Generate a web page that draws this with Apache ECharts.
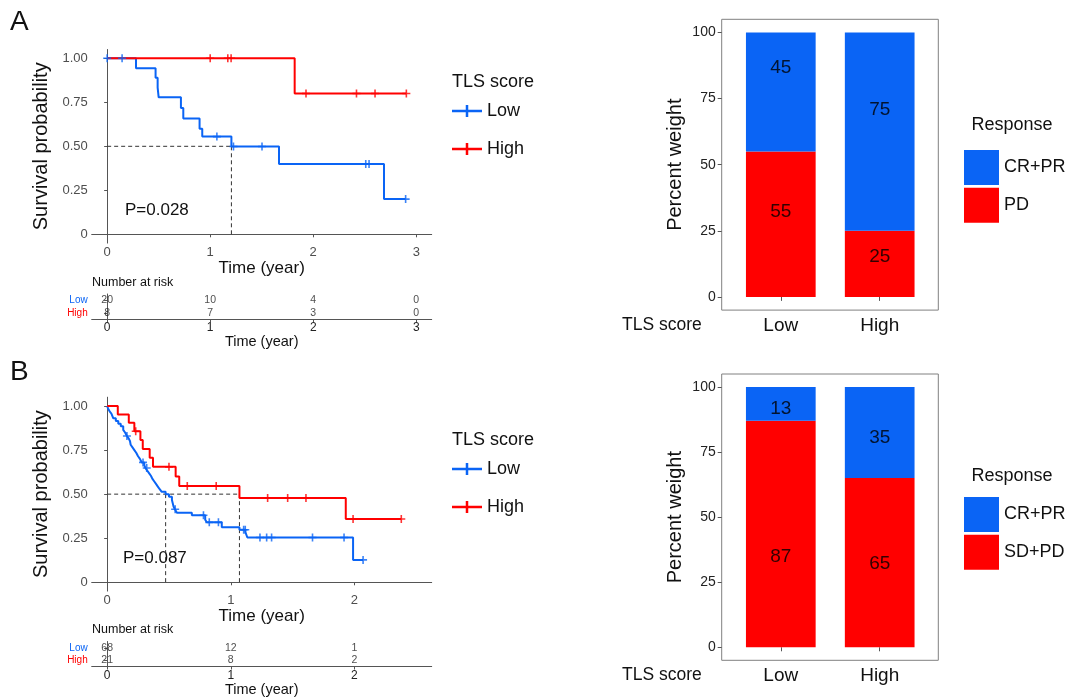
<!DOCTYPE html>
<html><head><meta charset="utf-8">
<script src="https://cdn.jsdelivr.net/npm/echarts@6/dist/echarts.min.js"></script>
<style>html,body{margin:0;padding:0;background:#fff}#c{width:1069px;height:700px}</style>
</head><body><div id="c"></div>
<script>
// ---------------- DATA ----------------
// Panel A – Kaplan-Meier (time in years, survival probability)
const kmA_lowSteps = [[0,1],[0.28,0.944],[0.47,0.889],[0.49,0.833],[0.50,0.778],[0.716,0.718],[0.739,0.658],[0.897,0.600],[0.923,0.555],[1.206,0.499],[1.668,0.40],[2.687,0.20]];
const kmA_lowEnd = 2.897;
const kmA_lowCensor = [0,0.145,1.065,1.226,1.503,2.51,2.542,2.897];
const kmA_highSteps = [[0,1],[1.82,0.80]];
const kmA_highEnd = 2.904;
const kmA_highCensor = [1.0,1.171,1.203,1.93,2.42,2.60,2.904];
const kmA_medians = [1.206];
const kmA_pValue = 'P=0.028';
const kmA_xTicks = [0,1,2,3];

// Panel B – Kaplan-Meier
const kmB_lowSteps = [[0,1],[0.008,0.985],[0.02,0.97],[0.035,0.956],[0.05,0.93],[0.07,0.915],[0.09,0.90],[0.11,0.885],[0.13,0.865],[0.145,0.85],[0.16,0.83],[0.175,0.815],[0.185,0.80],[0.19,0.78],[0.205,0.765],[0.22,0.75],[0.235,0.735],[0.25,0.715],[0.265,0.70],[0.28,0.68],[0.30,0.665],[0.31,0.648],[0.325,0.633],[0.34,0.618],[0.355,0.603],[0.365,0.588],[0.38,0.573],[0.395,0.558],[0.41,0.543],[0.425,0.528],[0.44,0.514],[0.473,0.499],[0.50,0.485],[0.524,0.467],[0.53,0.45],[0.537,0.43],[0.548,0.414],[0.564,0.395],[0.685,0.38],[0.793,0.355],[0.806,0.34],[0.927,0.312],[1.07,0.298],[1.118,0.284],[1.134,0.254],[1.989,0.127]];
const kmB_lowEnd = 2.07;
const kmB_lowCensor = [0.16,0.29,0.32,0.55,0.779,0.826,0.90,1.104,1.117,1.236,1.29,1.33,1.661,1.916,2.07];
const kmB_highSteps = [[0,1],[0.086,0.952],[0.175,0.905],[0.22,0.857],[0.269,0.807],[0.288,0.756],[0.344,0.706],[0.371,0.655],[0.554,0.600],[0.583,0.546],[1.07,0.478],[1.93,0.359]];
const kmB_highEnd = 2.379;
const kmB_highCensor = [0.231,0.5,0.648,0.882,1.298,1.46,1.608,1.989,2.379];
const kmB_medians = [0.473,1.07];
const kmB_pValue = 'P=0.087';
const kmB_xTicks = [0,1,2];

const survTicks = [0,0.25,0.5,0.75,1];
const survTickLabels = ['0','0.25','0.50','0.75','1.00'];

// Number at risk tables
const riskA_times = [0,1,2,3];
const riskA_low = [20,10,4,0];
const riskA_high = [8,7,3,0];
const riskB_times = [0,1,2];
const riskB_low = [68,12,1];
const riskB_high = [21,8,2];
const riskGroups = ['High','Low'];

// Response bars (percent)
const barCats = ['Low','High'];
const barA_crpr = [45,75];
const barA_pd = [55,25];
const barA_crprLabelY = [86.5,70.8];
const barA_pdLabelY = [32.3,15.1];
const barB_crpr = [13,35];
const barB_sdpd = [87,65];
const barB_crprLabelY = [91.5,80.4];
const barB_sdpdLabelY = [34.8,32.0];
const pctTicks = [0,25,50,75,100];

// ---------------- STYLE ----------------
const FONT = '"Liberation Sans", Arial, sans-serif';
const BLUE = '#0a64f5', RED = '#ff0000';
const AXC = '#555555', LBL = '#4d4d4d';
const crossIcon = 'path://M0,4.75h30v2.5h-30z M13.75,0h2.5v12h-2.5z';
const censorSym = 'path://M4,0H6V4H10V6H6V10H4V6H0V4H4Z';

function survAt(steps, t){ let s = steps[0][1]; for (const p of steps){ if (p[0] <= t) s = p[1]; } return s; }

function kmX(gi, min, max, ticks, labelSize, nameGap, nameSize){
  return {gridIndex: gi, type:'value', min, max,
    axisLine:{show:true, lineStyle:{color:AXC, width:1}},
    axisTick:{show:true, customValues: ticks, length:3, lineStyle:{color:AXC}},
    axisLabel:{customValues: ticks, formatter: v => String(v), color: gi%2? '#222':LBL, fontSize: labelSize, fontFamily: FONT, margin: 3},
    splitLine:{show:false},
    name:'Time (year)', nameLocation:'middle', nameGap, nameTextStyle:{fontSize:nameSize, fontFamily:FONT, color:'#111'}};
}
function kmY(gi){
  return {gridIndex: gi, type:'value', min:-0.05, max:1.05,
    axisLine:{show:true, lineStyle:{color:AXC, width:1}},
    axisTick:{show:true, customValues: survTicks, length:3, lineStyle:{color:AXC}},
    axisLabel:{customValues: survTicks, formatter: v => survTickLabels[survTicks.indexOf(v)] ?? '', color:LBL, fontSize:13, fontFamily:FONT, margin:4},
    splitLine:{show:false},
    name:'Survival probability', nameLocation:'middle', nameRotate:90, nameGap:40, nameTextStyle:{fontSize:20, fontFamily:FONT, color:'#111'}};
}
function riskY(gi){
  return {gridIndex: gi, type:'category', data: riskGroups,
    axisLine:{show:true, lineStyle:{color:AXC}},
    axisTick:{show:true, alignWithLabel:true, length:3, lineStyle:{color:AXC}},
    axisLabel:{interval:0, fontSize:10, fontFamily:FONT, margin:4, color: v => v === 'Low' ? BLUE : RED}};
}
// frame grid axes (visible percent axis)
function frameX(gi){ return {gridIndex: gi, type:'value', min:0, max:1, show:false}; }
function frameY(gi){
  return {gridIndex: gi, type:'value', min:-5, max:105,
    axisLine:{show:false}, splitLine:{show:false},
    axisTick:{show:true, customValues: pctTicks, length:4, lineStyle:{color:AXC}},
    axisLabel:{customValues: pctTicks, formatter: v => String(v), fontSize:14, fontFamily:FONT, color:'#222', margin:6},
    name:'Percent weight', nameLocation:'middle', nameRotate:90, nameGap:36, nameTextStyle:{fontSize:20, fontFamily:FONT, color:'#111'}};
}
// plot grid axes (category bars)
function plotX(gi){
  return {gridIndex: gi, type:'category', data: barCats,
    axisLine:{show:false}, splitLine:{show:false},
    axisTick:{show:true, alignWithLabel:true, length:4, lineStyle:{color:AXC}},
    axisLabel:{interval:0, fontSize:19, fontFamily:FONT, color:'#111', margin:6}};
}
function plotY(gi){ return {gridIndex: gi, type:'value', min:-5, max:105, show:false}; }

function kmLine(name, steps, end, color, i){
  const data = steps.concat([[end, steps[steps.length-1][1]]]);
  return {type:'line', name, xAxisIndex:i, yAxisIndex:i, data, step:'end', symbol:'none', showSymbol:false,
    lineStyle:{color, width:2}, itemStyle:{color}, silent:true, z:3};
}
function kmCensor(name, steps, times, color, i){
  return {type:'scatter', name, xAxisIndex:i, yAxisIndex:i, data: times.map(t => [t, survAt(steps, t)]),
    symbol: censorSym, symbolSize:8, itemStyle:{color}, silent:true, z:4};
}
function medianLines(meds, i){
  const mx = Math.max(...meds);
  const out = [{type:'line', xAxisIndex:i, yAxisIndex:i, data:[[0,0.5],[mx,0.5]], symbol:'none', silent:true,
    lineStyle:{type:[4,3], color:'#333', width:1}, z:2}];
  meds.forEach(m => out.push({type:'line', xAxisIndex:i, yAxisIndex:i, data:[[m,0.5],[m,0]], symbol:'none', silent:true,
    lineStyle:{type:[4,3], color:'#333', width:1}, z:2}));
  return out;
}
function riskSeries(times, low, high, i){
  const mk = (vals, grp) => ({type:'scatter', xAxisIndex:i, yAxisIndex:i, symbolSize:0, silent:true,
    data: times.map((t,k) => [t, grp, vals[k]]),
    label:{show:true, position:'inside', formatter: p => String(p.data[2]), fontSize:10.5, fontFamily:FONT, color:'#222'}});
  return [mk(low,'Low'), mk(high,'High')];
}
function barSeries(gi, topName, topVals, botName, botVals, topLY, botLY){
  const st = 'S'+gi;
  return [
    {type:'bar', name:botName, xAxisIndex:gi, yAxisIndex:gi, stack:st, barWidth:69.7, data: botVals, itemStyle:{color:RED}, silent:true},
    {type:'bar', name:topName, xAxisIndex:gi, yAxisIndex:gi, stack:st, barWidth:69.7, data: topVals, itemStyle:{color:BLUE}, silent:true},
    {type:'scatter', xAxisIndex:gi, yAxisIndex:gi, symbolSize:0, silent:true, z:5,
      data: topVals.map((v,k)=>[k, topLY[k], v]).concat(botVals.map((v,k)=>[k, botLY[k], v])),
      label:{show:true, position:'inside', formatter: p => String(p.data[2]), fontSize:19, fontFamily:FONT, color:'#000'}}
  ];
}
function txt(text, x, y, size, align, color){
  return {type:'text', x, y, silent:true, style:{text, font: size+'px '+FONT, fill: color || '#111', textAlign: align || 'left', textVerticalAlign:'middle'}};
}

const chart = echarts.init(document.getElementById('c'), null, {renderer:'canvas'});
const option = {
  animation:false,
  backgroundColor:'#ffffff',
  grid:[
    {left:91.7, top:49.5, width:340, height:193.6},
    {left:91.7, top:294, width:340, height:25},
    {left:91.7, top:397.2, width:340, height:193.9},
    {left:91.7, top:641.5, width:340, height:25},
    {left:721.7, top:19.3, width:216.6, height:290.8, show:true, borderColor:'#808080', borderWidth:1, backgroundColor:'transparent'},
    {left:721.7, top:374, width:216.6, height:286.3, show:true, borderColor:'#808080', borderWidth:1, backgroundColor:'transparent'},
    {left:731.35, top:19.3, width:197.8, height:290.8},
    {left:731.35, top:374, width:197.8, height:286.3}
  ],
  xAxis:[
    kmX(0, -0.15, 3.15, kmA_xTicks, 13, 16, 17),
    kmX(1, -0.15, 3.15, riskA_times, 12, 12, 14.5),
    kmX(2, -0.125, 2.625, kmB_xTicks, 13, 17, 17),
    kmX(3, -0.125, 2.625, riskB_times, 12, 12, 14.5),
    frameX(4), frameX(5), plotX(6), plotX(7)
  ],
  yAxis:[kmY(0), riskY(1), kmY(2), riskY(3), frameY(4), frameY(5), plotY(6), plotY(7)],
  legend:[
    {data:[{name:'Low', icon:crossIcon},{name:'High', icon:crossIcon}], orient:'vertical', left:447, top:97, itemWidth:30, itemHeight:12, itemGap:20, selectedMode:false, textStyle:{fontSize:18, fontFamily:FONT, color:'#111'}},
    {data:[{name:'Low', icon:crossIcon},{name:'High', icon:crossIcon}], orient:'vertical', left:447, top:455, itemWidth:30, itemHeight:12, itemGap:20, selectedMode:false, textStyle:{fontSize:18, fontFamily:FONT, color:'#111'}},
    {data:['CR+PR','PD'], orient:'vertical', left:959, top:145, icon:'rect', itemWidth:35, itemHeight:35, itemGap:2.7, selectedMode:false, textStyle:{fontSize:18, fontFamily:FONT, color:'#111'}},
    {data:['CR+PR','SD+PD'], orient:'vertical', left:959, top:492, icon:'rect', itemWidth:35, itemHeight:35, itemGap:2.7, selectedMode:false, textStyle:{fontSize:18, fontFamily:FONT, color:'#111'}}
  ],
  series:[
    ...medianLines(kmA_medians, 0),
    kmLine('Low', kmA_lowSteps, kmA_lowEnd, BLUE, 0),
    kmLine('High', kmA_highSteps, kmA_highEnd, RED, 0),
    kmCensor('Low censored', kmA_lowSteps, kmA_lowCensor, BLUE, 0),
    kmCensor('High censored', kmA_highSteps, kmA_highCensor, RED, 0),
    ...riskSeries(riskA_times, riskA_low, riskA_high, 1),
    ...medianLines(kmB_medians, 2),
    kmLine('Low', kmB_lowSteps, kmB_lowEnd, BLUE, 2),
    kmLine('High', kmB_highSteps, kmB_highEnd, RED, 2),
    kmCensor('Low censored', kmB_lowSteps, kmB_lowCensor, BLUE, 2),
    kmCensor('High censored', kmB_highSteps, kmB_highCensor, RED, 2),
    ...riskSeries(riskB_times, riskB_low, riskB_high, 3),
    ...barSeries(6, 'CR+PR', barA_crpr, 'PD', barA_pd, barA_crprLabelY, barA_pdLabelY),
    ...barSeries(7, 'CR+PR', barB_crpr, 'SD+PD', barB_sdpd, barB_crprLabelY, barB_sdpdLabelY)
  ],
  graphic:[
    txt('A', 10, 22, 28),
    txt('B', 10, 372, 28),
    txt('TLS score', 452, 82, 18),
    txt('TLS score', 452, 440, 18),
    txt(kmA_pValue, 125, 210, 17),
    txt(kmB_pValue, 123, 558, 17),
    txt('Number at risk', 92, 283, 12.5),
    txt('Number at risk', 92, 630, 12.5),
    txt('Response', 1012, 125, 18, 'center'),
    txt('Response', 1012, 476, 18, 'center'),
    txt('TLS score', 622, 325, 17.5),
    txt('TLS score', 622, 675, 17.5)
  ]
};
chart.setOption(option);
</script></body></html>
